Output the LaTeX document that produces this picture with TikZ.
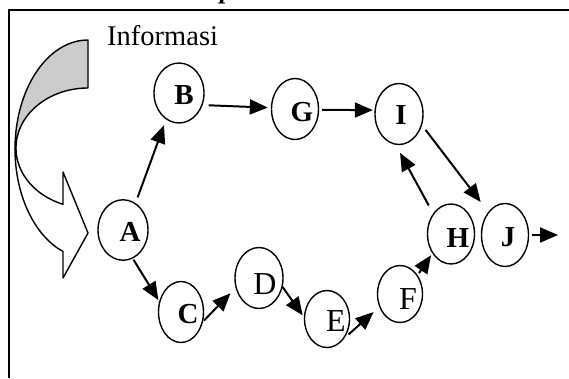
\documentclass[tikz,border=0pt]{standalone}
\usepackage{fontspec}
\setmainfont{Liberation Serif}
\usetikzlibrary{shapes.geometric,arrows.meta}
\begin{document}
\begin{tikzpicture}[x=1pt,y=-1pt,
  ell/.style={ellipse, draw, line width=1.4pt, inner sep=0pt},
  lblb/.style={inner sep=0pt, font=\fontsize{29}{32}\selectfont\bfseries},
  lblr/.style={inner sep=0pt, font=\fontsize{32}{34}\selectfont},
  arr/.style={line width=2pt, -{Triangle[length=18pt,width=15pt]}},
  shp/.style={line width=1.4pt, line join=round}]
\useasboundingbox (0,0) rectangle (569,378);
% frame
\draw[line width=1.8pt] (9,378) -- (9,10) -- (569,10);
% cut caption glyph at top
\node[anchor=base west, inner sep=0pt, font=\fontsize{26}{28}\selectfont\bfseries\itshape] (ptext) at (220,-1.5) {p};
% curved arrow: back part
\filldraw[shp, fill=black!20]
  plot[domain=0:90, samples=40] ({88+73*cos(270-\x)},{149+109*sin(270-\x)})
  -- plot[domain=180:270, samples=40] ({88+72*cos(\x)},{148+60*sin(\x)}) -- cycle;
% curved arrow: front part
\filldraw[shp, fill=white]
  plot[domain=0:69.7, samples=40] ({88+72*cos(180-\x)},{148+60*sin(180-\x)})
  -- (63,172) -- (88,233) -- (63,278) --
  plot[domain=110:180, samples=40] ({88+73*cos(\x)},{149+109*sin(\x)}) -- cycle;
\node[anchor=base west, inner sep=0pt, font=\fontsize{28.5}{30}\selectfont] (info) at (107,45) {Informasi};
% ellipses
\node[ell, minimum width=50pt, minimum height=60.5pt] (A) at (123,230) {};
\node[ell, minimum width=50pt, minimum height=60pt] (B) at (179,93) {};
\node[ell, minimum width=47pt, minimum height=61pt] (G) at (295,109) {};
\node[ell, minimum width=48pt, minimum height=61pt] (I) at (399,114) {};
\node[ell, minimum width=45pt, minimum height=61pt] (C) at (181,312) {};
\node[ell, minimum width=48pt, minimum height=61pt] (D) at (259,278) {};
\node[ell, minimum width=45pt, minimum height=57pt] (E) at (327,319) {};
\node[ell, minimum width=45pt, minimum height=57pt] (F) at (400,294) {};
\node[ell, minimum width=47pt, minimum height=60pt] (H) at (451,234) {};
\node[ell, minimum width=47pt, minimum height=63pt] (J) at (505,235) {};
% labels
\node[lblb] (Al) at (130,232) {A};
\node[lblb] (Bl) at (184,95) {B};
\node[lblb] (Gl) at (302,112) {G};
\node[lblb] (Il) at (401,115) {I};
\node[lblb] (Cl) at (188,314) {C};
\node[lblr] (Dl) at (265,284) {D};
\node[lblr] (El) at (336,321) {E};
\node[lblr] (Fl) at (408,299) {F};
\node[lblb] (Hl) at (458,238) {H};
\node[lblb] (Jl) at (508,237) {J};
\coordinate (out) at (558,235);
% connectors
\draw[arr, shorten <=6pt, shorten >=6pt] (A.65.6) -- (B.244.9);
\draw[arr, shorten <=6pt, shorten >=3pt] (B.-27.3) -- (G.177.9);
\draw[arr, shorten <=3pt, shorten >=1.7pt] (G.-2) -- (I.171);
\draw[arr, shorten <=5.8pt, shorten >=12.4pt] (I.-26.6) -- (J.126);
\draw[arr, shorten <=9pt, shorten >=9pt] (H.131.6) -- (I.264.3);
\draw[arr, shorten <=1.3pt, shorten >=1.5pt] (A.-71.6) -- (C.154.4);
\draw[arr, shorten <=1.2pt, shorten >=7.4pt] (C.-23.5) -- (D.203.4);
\draw[arr, shorten >=2pt] (D.-21.4) -- (E.175.4);
\draw[arr, shorten <=5.3pt, shorten >=7.6pt] (E.-47.6) -- (F.212.2);
\draw[arr, shorten <=2.5pt, shorten >=2.2pt] (F.47.9) -- (H.226.4);
\draw[arr, shorten <=3pt] (J.0) -- (out);
\end{tikzpicture}
\end{document}
